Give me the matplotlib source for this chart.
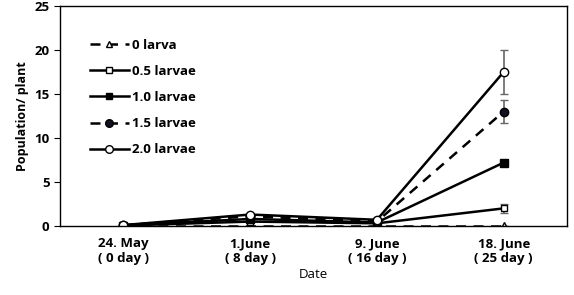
import matplotlib
matplotlib.use("Agg")
import matplotlib.pyplot as plt
from matplotlib.lines import Line2D
import numpy as np

plt.rcParams['font.family'] = ['Open Sans', 'DejaVu Sans']

dates = ["24. May\n( 0 day )", "1.June\n( 8 day )", "9. June\n( 16 day )", "18. June\n( 25 day )"]
series_names = ["0 larva", "0.5 larvae", "1.0 larvae", "1.5 larvae", "2.0 larvae"]
v0 = [0.0, 0.0, 0.0, 0.0]
v05 = [0.05, 0.5, 0.3, 2.0]
v10 = [0.05, 0.8, 0.4, 7.2]
v15 = [0.1, 1.1, 0.5, 13.0]
v20 = [0.1, 1.3, 0.7, 17.5]
e0 = [0, 0, 0, 0]
e05 = [0, 0, 0, 0.5]
e10 = [0, 0, 0, 0.3]
e15 = [0, 0, 0, 1.3]
e20 = [0, 0, 0, 2.5]
yticks = [0, 5, 10, 15, 20, 25]

fig = plt.figure(figsize=(5.74, 2.95), dpi=100)
ax = fig.add_axes([0.1045, 0.234, 0.8835, 0.746])
x = np.arange(len(dates))

styles = [
    dict(ls=(0, (4, 3)), marker='^', mfc='white', ms=5.5),
    dict(ls='-', marker='s', mfc='white', ms=4.5),
    dict(ls='-', marker='s', mfc='black', ms=5.5),
    dict(ls=(0, (4, 3)), marker='o', mfc='#111122', ms=6),
    dict(ls='-', marker='o', mfc='white', ms=6),
]
vals = [v0, v05, v10, v15, v20]
errs = [e0, e05, e10, e15, e20]
handles = []
for name, v, e, st in zip(series_names, vals, errs, styles):
    ax.errorbar(x, v, yerr=e, color='black', ecolor='#666666', elinewidth=1.2,
                capsize=3, capthick=1.2, lw=1.8, ls=st['ls'], marker=st['marker'],
                mfc=st['mfc'], mec='black', ms=st['ms'], mew=1)
    handles.append(Line2D([], [], color='black', lw=1.8, ls=st['ls'], marker=st['marker'],
                          mfc=st['mfc'], mec='black', ms=st['ms'] - 0.5, mew=1))

ax.set_xlim(-0.5, 3.5)
ax.set_ylim(0, 25)
ax.set_yticks(yticks)
ax.set_xticks(x)
ax.set_xticklabels(dates, fontsize=9.5, fontweight='bold')
ax.tick_params(axis='x', length=0, pad=8)
ax.tick_params(axis='y', direction='out', length=4, labelsize=9.5)
for t in ax.get_yticklabels():
    t.set_fontweight('bold')
ax.set_ylabel("Population/ plant", fontsize=9, fontweight='bold')
ax.set_xlabel("Date", fontsize=9.5, labelpad=2)
for s in ax.spines.values():
    s.set_linewidth(1.0)

leg = ax.legend(handles, series_names, loc='upper left', bbox_to_anchor=(0.035, 0.905),
                frameon=False, handlelength=3.0, labelspacing=1.0, handletextpad=0.2,
                prop={'weight': 'bold', 'size': 9.5})
fig.savefig("out.png", dpi=100)
